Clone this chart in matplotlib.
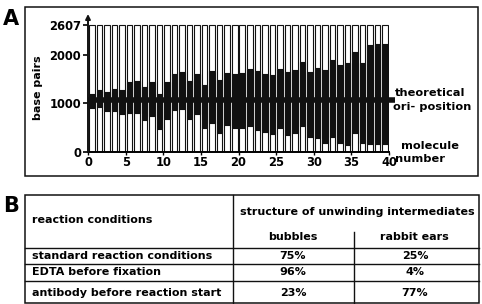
import numpy as np
import matplotlib
matplotlib.use("Agg")
import matplotlib.pyplot as plt
from matplotlib.patches import Rectangle
from matplotlib.lines import Line2D

plt.rcParams['font.family'] = ['DejaVu Sans']
plt.rcParams['font.weight'] = 'bold'

# panel A: unwound (black) stretch of each molecule, base pairs
plasmid_len = 2607
ori_pos = 1060
molecule = np.arange(1, 41)
bubble_top = [1190, 1280, 1235, 1300, 1270, 1440, 1460, 1340, 1440, 1190,
              1440, 1605, 1650, 1450, 1610, 1375, 1665, 1475, 1625, 1600,
              1630, 1695, 1670, 1600, 1580, 1695, 1650, 1685, 1855, 1650,
              1715, 1685, 1890, 1785, 1820, 2045, 1830, 2200, 2215, 2215]
bubble_bottom = [900, 915, 835, 845, 780, 795, 800, 665, 730, 480,
                 680, 860, 875, 670, 790, 488, 600, 398, 555, 488,
                 490, 534, 452, 418, 370, 486, 349, 397, 534, 300,
                 281, 185, 315, 178, 144, 383, 178, 164, 164, 164]
y_ticks = [0, 1000, 2000, 2607]
x_ticks = [0, 5, 10, 15, 20, 25, 30, 35, 40]

# panel B: table
conditions = ["standard reaction conditions", "EDTA before fixation",
              "antibody before reaction start"]
bubbles = ["75%", "96%", "23%"]
rabbit_ears = ["25%", "4%", "77%"]

W, H = 482, 304
ink = '#111111'
fig = plt.figure(figsize=(W / 100, H / 100), dpi=100)


def fx(px):
    return px / W


def fy(py):
    return 1 - py / H


# ---- panel A ----
fig.add_artist(Rectangle((fx(25), fy(176)), fx(478) - fx(25), fy(7) - fy(176),
                         transform=fig.transFigure, fill=False, ec=ink, lw=1.1))
fig.text(fx(3), fy(19), "A", fontsize=15, fontweight='bold', va='center', ha='left')

ax = fig.add_axes([fx(88), fy(152), fx(389) - fx(88), fy(14) - fy(152)])
ymax = plasmid_len * (152 - 14) / (152 - 25)
bt = np.array(bubble_top)
bb = np.array(bubble_bottom)
ax.bar(molecule - 0.5, plasmid_len, width=0.74, color='white', edgecolor=ink, linewidth=0.8)
ax.bar(molecule - 0.5, bt - bb, bottom=bb, width=0.74, color=ink, edgecolor=ink, linewidth=0.8)
ax.plot([0, 40.8], [ori_pos, ori_pos], color=ink, lw=4.0, solid_capstyle='butt', clip_on=False)
ax.set_xlim(0, 40)
ax.set_ylim(0, ymax)

for s in ['top', 'right', 'left']:
    ax.spines[s].set_visible(False)
ax.spines['bottom'].set_linewidth(1.4)
ax.annotate("", xy=(0, ymax), xytext=(0, 0), xycoords='data',
            arrowprops=dict(arrowstyle='-|>', color=ink, lw=1.4,
                            mutation_scale=7, shrinkA=0, shrinkB=0),
            annotation_clip=False)
ax.set_yticks(y_ticks)
ax.set_yticklabels([str(v) for v in y_ticks], fontsize=8.3, fontweight='bold')
ax.set_xticks(x_ticks)
ax.set_xticklabels([str(v) for v in x_ticks], fontsize=8.3, fontweight='bold')
ax.tick_params(axis='y', length=3.5, width=1.2, pad=1.5)
ax.tick_params(axis='x', length=2, width=1.0, pad=1)
ax.set_ylabel("base pairs", fontsize=8, fontweight='bold')
ax.yaxis.set_label_coords(-0.15, 0.464)

rfs = 8.2
fig.text(fx(395), fy(93), "theoretical", fontsize=rfs, fontweight='bold', va='center')
fig.text(fx(393), fy(107), "ori- position", fontsize=rfs, fontweight='bold', va='center')
fig.text(fx(401), fy(146), "molecule", fontsize=rfs, fontweight='bold', va='center')
fig.text(fx(395), fy(158.5), "number", fontsize=rfs, fontweight='bold', va='center')

# ---- panel B ----
fig.text(fx(3), fy(206), "B", fontsize=15, fontweight='bold', va='center', ha='left')
left, right, top, bottom = 25, 479, 195, 303
col1, col2 = 233, 354
row_lines = [248, 264, 281]


def hline(y, x0, x1):
    fig.add_artist(Line2D([fx(x0), fx(x1)], [fy(y), fy(y)], transform=fig.transFigure,
                          color=ink, lw=1.0))


def vline(x, y0, y1):
    fig.add_artist(Line2D([fx(x), fx(x)], [fy(y0), fy(y1)], transform=fig.transFigure,
                          color=ink, lw=1.0))


fig.add_artist(Rectangle((fx(left), fy(bottom)), fx(right) - fx(left), fy(top) - fy(bottom),
                         transform=fig.transFigure, fill=False, ec=ink, lw=1.1))
for y in row_lines:
    hline(y, left, right)
vline(col1, top, bottom)
vline(col2, 232, bottom)

tfs = 8.0
fig.text(fx(32), fy(220), "reaction conditions", fontsize=tfs, fontweight='bold', va='center')
fig.text(fx(357), fy(212), "structure of unwinding intermediates", fontsize=tfs,
         fontweight='bold', va='center', ha='center')
fig.text(fx(293), fy(237), "bubbles", fontsize=tfs, fontweight='bold', va='center', ha='center')
fig.text(fx(414), fy(237), "rabbit ears", fontsize=tfs, fontweight='bold', va='center', ha='center')
row_centers = [256, 272, 293]
for yc, c, b, r in zip(row_centers, conditions, bubbles, rabbit_ears):
    fig.text(fx(32), fy(yc), c, fontsize=tfs, fontweight='bold', va='center')
    fig.text(fx(293), fy(yc), b, fontsize=tfs, fontweight='bold', va='center', ha='center')
    fig.text(fx(415), fy(yc), r, fontsize=tfs, fontweight='bold', va='center', ha='center')

fig.savefig("out.png", dpi=100)
